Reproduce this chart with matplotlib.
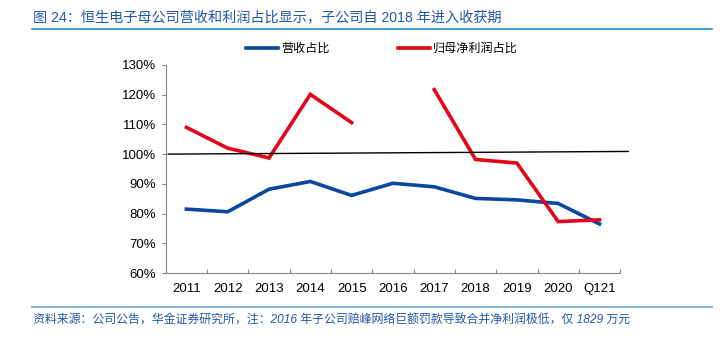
import numpy as np
import matplotlib.pyplot as plt
from matplotlib.lines import Line2D

plt.rcParams['font.family'] = ['Liberation Sans', 'Noto Sans CJK SC', 'DejaVu Sans']

categories = ['2011', '2012', '2013', '2014', '2015', '2016', '2017', '2018', '2019', '2020', 'Q121']
revenue_share = [81.5, 80.6, 88.2, 90.8, 86.1, 90.2, 89.0, 85.1, 84.6, 83.4, 76.5]
profit_share = [109.0, 102.0, 98.7, 120.1, 110.6, np.nan, 121.7, 98.2, 97.0, 77.3, 77.9]
ref_line = [100.0, 100.9]
yticks = [60, 70, 80, 90, 100, 110, 120, 130]

blue = '#0B479E'
red = '#E3061B'
title_blue = '#2457A4'

fig = plt.figure(figsize=(7.27, 3.53), dpi=100)
ax = fig.add_axes([0.228, 0.2266, 0.625, 0.5894])

x = np.arange(len(categories))
ax.plot(x, revenue_share, color=blue, lw=2.6, solid_joinstyle='miter')
ax.plot(x, profit_share, color=red, lw=2.6, solid_joinstyle='miter')
ax.plot([-0.44, 10.7], ref_line, color='black', lw=1.0, clip_on=False)

ax.set_xlim(-0.5, 10.5)
ax.set_ylim(60, 130)
ax.set_yticks(yticks)
ax.set_yticklabels([f'{v}%' for v in yticks], fontsize=9.5)
ax.set_xticks(np.arange(-0.5, 11, 1))
ax.set_xticklabels([])
ax.set_xticks(x, minor=True)
ax.set_xticklabels(categories, minor=True, fontsize=9.5)
ax.tick_params(axis='x', which='major', direction='in', length=3, color='#888888')
ax.tick_params(axis='x', which='minor', length=0, pad=7)
ax.tick_params(axis='y', direction='out', length=3, color='#888888', pad=4)
for s in ['top', 'right']:
    ax.spines[s].set_visible(False)
for s in ['left', 'bottom']:
    ax.spines[s].set_color('#888888')
    ax.spines[s].set_linewidth(0.8)

handles = [Line2D([], [], color=blue, lw=2.6), Line2D([], [], color=red, lw=2.6)]
fig.legend(handles, ['营收占比', '归母净利润占比'], loc='center left', bbox_to_anchor=(0.338, 0.862),
           ncol=2, frameon=False, handlelength=2.7, handletextpad=0.25,
           columnspacing=5.6, borderpad=0, borderaxespad=0,
           prop={'family': ['Noto Sans CJK SC'], 'size': 8.7})

fig.text(0.045, 0.948, '图 24：恒生电子母公司营收和利润占比显示，子公司自 2018 年进入收获期',
         color=title_blue, fontsize=10.2, va='center', ha='left',
         family=['Liberation Sans', 'Noto Sans CJK SC'])
fig.add_artist(Line2D([0.044, 0.979], [0.917, 0.917], color='#2288C8', lw=1.2))
fig.add_artist(Line2D([0.044, 0.979], [0.131, 0.131], color='#8BB8E0', lw=1.5))
fig.text(0.045, 0.093, '资料来源：公司公告，华金证券研究所，注：2016 年子公司赔峰网络巨额罚款导致合并净利润极低，仅 1829 万元',
         color=title_blue, fontsize=8.6, va='center', ha='left', style='italic',
         family=['Liberation Sans', 'Noto Sans CJK SC'])

fig.savefig('out.png', dpi=100)
